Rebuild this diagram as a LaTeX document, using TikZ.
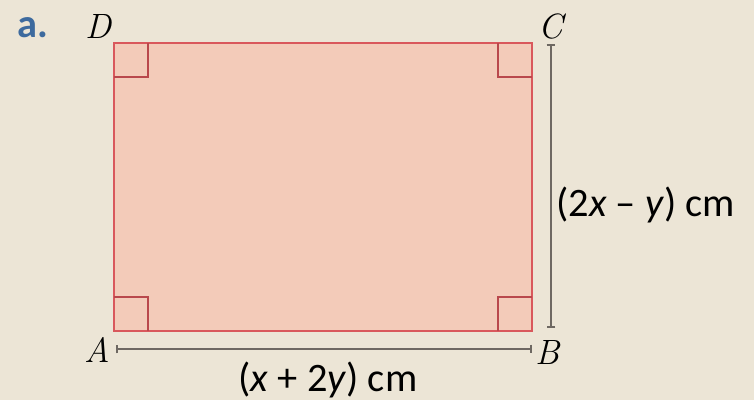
\documentclass[tikz,border=0pt]{standalone}
\usepackage{fontspec}
\usepackage{tikz}
\usetikzlibrary{arrows.meta, positioning}
\newfontfamily\dimfont{Carlito}
\definecolor{clrPaper}{HTML}{ECE5D6}
\definecolor{clrFace}{HTML}{F3CBB9}
\definecolor{clrEdge}{HTML}{D9585C}
\definecolor{clrMark}{HTML}{B9484C}
\definecolor{clrDim}{HTML}{6E6862}
\definecolor{clrTag}{HTML}{3D6A9E}
\tikzset{
  side/.style = {draw=clrEdge, fill=clrFace, line width=1.3pt},
  corner/.style = {draw=clrMark, line width=1.1pt},
  dimline/.style = {{Bar[width=5pt]}-{Bar[width=5pt]}, draw=clrDim, line width=1pt},
  vertex/.style = {font=\fontsize{20}{24}\selectfont\itshape, inner sep=0pt},
  dimlabel/.style = {font=\fontsize{23}{27}\selectfont\dimfont, inner sep=0pt},
}

\begin{document}
\begin{tikzpicture}[x=0.02cm, y=0.02cm]

  % Paper
  \fill[clrPaper] (0,0) rectangle (754,400);
  \useasboundingbox (0,0) rectangle (754,400);

  % Corners of the rectangle
  \coordinate (A) at (114,69);
  \coordinate (B) at (532,69);
  \coordinate (C) at (532,357);
  \coordinate (D) at (114,357);

  \draw[side] (A) rectangle (C);

  % Right angle marks
  \draw[corner] (A) ++(0,34) -| ++(34,-34);
  \draw[corner] (B) ++(0,34) -| ++(-34,-34);
  \draw[corner] (C) ++(0,-34) -| ++(-34,34);
  \draw[corner] (D) ++(0,-34) -| ++(34,34);

  % Dimension lines
  \coordinate (dimC) at (551,356);
  \coordinate (dimB) at (551,72);
  \coordinate (dimA) at (116,51);
  \coordinate (dimB2) at (532,51);
  \draw[dimline] (dimC) -- (dimB);
  \draw[dimline] (dimA) -- (dimB2);

  % Labels
  \node[font=\fontsize{23}{27}\selectfont\dimfont\bfseries, text=clrTag] (tag) at (33,372) {a.};
  \node[vertex] (lblD) at (98,374) {D};
  \node[vertex] (lblC) at (551,374) {C};
  \node[vertex] (lblA) at (97,50) {A};
  \node[vertex] (lblB) at (548,48) {B};
  \node[dimlabel, anchor=west] (height) at (556,195) {(2\textit{x} – \textit{y}) cm};
  \node[dimlabel] (width) at (328,20) {(\textit{x} + 2\textit{y}) cm};

\end{tikzpicture}
\end{document}
